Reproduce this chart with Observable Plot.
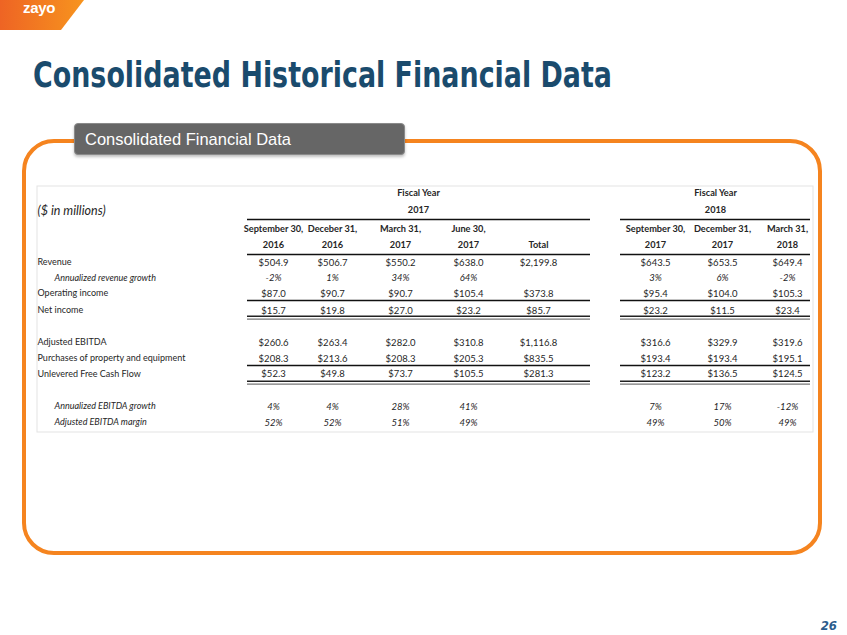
<!DOCTYPE html>
<html>
<head>
<meta charset="utf-8">
<script src="https://cdn.jsdelivr.net/npm/d3@7"></script>
<script src="https://cdn.jsdelivr.net/npm/@observablehq/plot@0.6"></script>
<style>
  html, body { margin: 0; padding: 0; background: #fff; }
  #page { position: relative; width: 847px; height: 635px; overflow: hidden; background: #fff; }
  #logo { position: absolute; left: 0; top: 0; width: 84px; height: 30px;
    background: linear-gradient(90deg, #ee6424 0%, #f7941e 100%);
    clip-path: polygon(0 0, 84px 0, 61px 30px, 0 30px); }
  #logo span { position: absolute; left: 23px; top: 0px; line-height: 15px; font: bold 15px/15px "Liberation Sans", Arial, sans-serif; color: #fff; letter-spacing: -0.3px; }
  #title { position: absolute; left: 33px; top: 56.5px; white-space: nowrap; line-height: 36px;
    font: bold 36px/36px "DejaVu Sans Condensed", "DejaVu Sans", sans-serif; color: #1a4b6d; transform-origin: 0 0; }
  #frame { position: absolute; left: 22px; top: 139px; width: 800px; height: 416px; box-sizing: border-box;
    border: 4px solid #f5841f; border-radius: 32px; }
  #tab { position: absolute; left: 74px; top: 123px; width: 331px; height: 32px; box-sizing: border-box;
    background: #666; border: 1px solid #8a8a8a; border-radius: 4px; box-shadow: 0 2px 3px rgba(0,0,0,0.25); z-index: 3; }
  #tab span { position: absolute; left: 10px; top: 7px; white-space: nowrap;
    font: 17px/17px "Liberation Sans", Arial, sans-serif; color: #fff; transform-origin: 0 0; }
  #chart { position: absolute; left: 0; top: 0; z-index: 2; }
  #pnum { position: absolute; right: 10px; top: 619px; font: bold italic 13px/13px "DejaVu Sans Condensed", "DejaVu Sans", sans-serif; color: #2b5c8c; }
</style>
</head>
<body>
<div id="page">
  <div id="logo"><span>zayo</span></div>
  <div id="title">Consolidated Historical Financial Data</div>
  <div id="frame"></div>
  <div id="tab"><span>Consolidated Financial Data</span></div>
  <div id="chart"></div>
  <div id="pnum">26</div>
</div>
<script>
// ---------------- data ----------------
const unitsLabel = "($ in millions)";
const fiscalYearLabel = "Fiscal Year";
const fiscalYears = ["2017", "2018"];
const colMonths = ["September 30,", "Deceber 31,", "March 31,", "June 30,", "", "September 30,", "December 31,", "March 31,"];
const colYears  = ["2016", "2016", "2017", "2017", "Total", "2017", "2017", "2018"];

const rowLabels = [
  "Revenue",
  "Annualized revenue growth",
  "Operating income",
  "Net income",
  "Adjusted EBITDA",
  "Purchases of property and equipment",
  "Unlevered Free Cash Flow",
  "Annualized EBITDA growth",
  "Adjusted EBITDA margin"
];
const revenue         = [504.9, 506.7, 550.2, 638.0, 2199.8, 643.5, 653.5, 649.4];
const revenueGrowth   = [-2, 1, 34, 64, null, 3, 6, -2];
const operatingIncome = [87.0, 90.7, 90.7, 105.4, 373.8, 95.4, 104.0, 105.3];
const netIncome       = [15.7, 19.8, 27.0, 23.2, 85.7, 23.2, 11.5, 23.4];
const adjustedEbitda  = [260.6, 263.4, 282.0, 310.8, 1116.8, 316.6, 329.9, 319.6];
const capex           = [208.3, 213.6, 208.3, 205.3, 835.5, 193.4, 193.4, 195.1];
const unleveredFcf    = [52.3, 49.8, 73.7, 105.5, 281.3, 123.2, 136.5, 124.5];
const ebitdaGrowth    = [4, 4, 28, 41, null, 7, 17, -12];
const ebitdaMargin    = [52, 52, 51, 49, null, 49, 50, 49];

const rowValues = [revenue, revenueGrowth, operatingIncome, netIncome, adjustedEbitda, capex, unleveredFcf, ebitdaGrowth, ebitdaMargin];
const rowKinds  = ["usd", "pct", "usd", "usd", "usd", "usd", "usd", "pct", "pct"];

// ---------------- layout ----------------
const colX = [273, 332, 400, 468, 538, 655, 722, 787];
const blocks = [{x1: 247, x2: 590, cx: 418, year: 0}, {x1: 620, x2: 810, cx: 715, year: 1}];
const labelX = 37, indentX = 54;
const rowY = [262, 277.5, 293, 310, 342, 358, 373.5, 406, 422];
const hdr = {fy: 193, yr: 210, mon: 229, ys: 245};
const singleRules = [219, 254, 300, 365];
const doubleRules = [317, 382];

const fmtUsd = v => "$" + d3.format(",.1f")(v);
const fmtPct = v => String(Math.round(v)) + "%";

const cells = [];
rowValues.forEach((vals, ri) => vals.forEach((v, ci) => {
  if (v == null) return;
  cells.push({x: colX[ci], y: rowY[ri], text: rowKinds[ri] === "usd" ? fmtUsd(v) : fmtPct(v), italic: rowKinds[ri] === "pct"});
}));
const labels = rowLabels.map((t, i) => ({x: rowKinds[i] === "pct" ? indentX : labelX, y: rowY[i], text: t, italic: rowKinds[i] === "pct"}));
const headers = [];
colMonths.forEach((m, i) => { if (m) headers.push({x: colX[i], y: hdr.mon, text: m}); });
colYears.forEach((m, i) => headers.push({x: colX[i], y: hdr.ys, text: m}));
blocks.forEach(b => {
  headers.push({x: b.cx, y: hdr.fy, text: fiscalYearLabel});
  headers.push({x: b.cx, y: hdr.yr, text: fiscalYears[b.year]});
});
const rules = [];
blocks.forEach(b => singleRules.forEach(y => rules.push({x1: b.x1, x2: b.x2, y})));
const dblTop = [], dblBot = [];
blocks.forEach(b => doubleRules.forEach(y => { dblTop.push({x1: b.x1, x2: b.x2, y: y - 1.2}); dblBot.push({x1: b.x1, x2: b.x2, y: y + 1.6}); }));

const font = "Lato, 'Open Sans', sans-serif";
const ink = "#262626";

const chart = Plot.plot({
  width: 847, height: 635, margin: 0,
  x: {type: "linear", domain: [0, 847], range: [0, 847], axis: null},
  y: {type: "linear", domain: [0, 635], range: [0, 635], axis: null},
  style: {background: "transparent", overflow: "visible"},
  marks: [
    Plot.rect([{x1: 37, x2: 813, y1: 186, y2: 432}], {x1: "x1", x2: "x2", y1: "y1", y2: "y2", fill: "none", stroke: "#e3e3e3", strokeWidth: 1}),
    Plot.ruleY(rules, {x1: "x1", x2: "x2", y: "y", stroke: "#111", strokeWidth: 1.6}),
    Plot.ruleY(dblTop, {x1: "x1", x2: "x2", y: "y", stroke: "#222", strokeWidth: 1.6}),
    Plot.ruleY(dblBot, {x1: "x1", x2: "x2", y: "y", stroke: "#777", strokeWidth: 1.4}),
    Plot.text(headers, {x: "x", y: "y", text: "text", fontWeight: "bold", fontSize: 9.2, fill: ink, fontFamily: font}),
    Plot.text([{x: labelX, y: hdr.yr, text: unitsLabel}], {x: "x", y: "y", text: "text", textAnchor: "start", fontStyle: "italic", fontSize: 12.5, fill: ink, fontFamily: font}),
    Plot.text(labels.filter(d => !d.italic), {x: "x", y: "y", text: "text", textAnchor: "start", fontSize: 9, fill: ink, fontFamily: font}),
    Plot.text(labels.filter(d => d.italic), {x: "x", y: "y", text: "text", textAnchor: "start", fontStyle: "italic", fontSize: 9, fill: ink, fontFamily: font}),
    Plot.text(cells.filter(d => !d.italic), {x: "x", y: "y", text: "text", fontSize: 9.5, fill: ink, fontFamily: font}),
    Plot.text(cells.filter(d => d.italic), {x: "x", y: "y", text: "text", fontStyle: "italic", fontSize: 9.5, fill: ink, fontFamily: font})
  ]
});
document.getElementById("chart").appendChild(chart);

// squeeze title texts to the reference's widths
function fit(el, w) {
  const cur = el.getBoundingClientRect().width;
  if (cur > 0) el.style.transform = `scaleX(${w / cur})`;
}
const t = document.getElementById("title");
t.style.display = "inline-block";
fit(t, 579);
const ts = document.querySelector("#tab span");
ts.style.display = "inline-block";
fit(ts, 206);
</script>
</body>
</html>
